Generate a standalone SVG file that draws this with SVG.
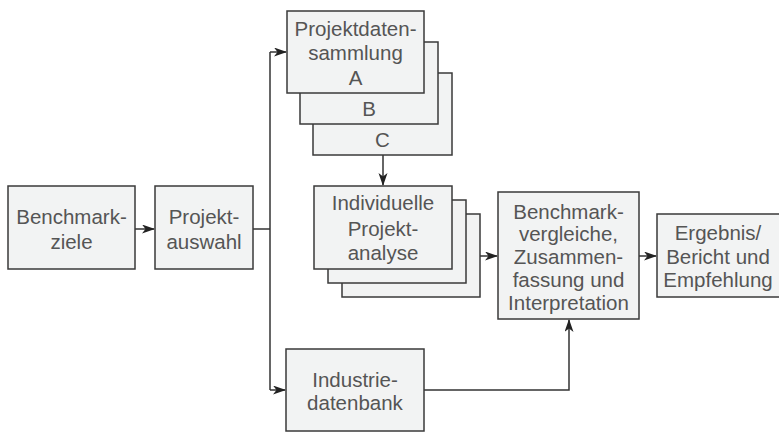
<svg xmlns="http://www.w3.org/2000/svg" width="779" height="432" viewBox="0 0 779 432">
<style>
.box{fill:#f2f3f3;stroke:#3a3a3a;stroke-width:1.5}
.t{font-family:"Liberation Sans",Arial,sans-serif;font-size:20.5px;fill:#555;text-anchor:middle}
.c{fill:none;stroke:#333;stroke-width:1.5}
</style>
<defs>
<marker id="ah" markerWidth="13" markerHeight="10" refX="12" refY="4.5" orient="auto" markerUnits="userSpaceOnUse">
<path d="M0,0 L13,4.5 L0,9 L3.5,4.5 z" fill="#222"/>
</marker>
</defs>
<rect width="779" height="432" fill="#fff"/>
<g id="connectors">
<path class="c" d="M135,229 H154" marker-end="url(#ah)"/>
<path class="c" d="M253,229 H270"/>
<path class="c" d="M270,52 V390"/>
<path class="c" d="M270,52 H286" marker-end="url(#ah)"/>
<path class="c" d="M270,390 H285" marker-end="url(#ah)"/>
<path class="c" d="M383,155 V185" marker-end="url(#ah)"/>
<path class="c" d="M480,256 H497" marker-end="url(#ah)"/>
<path class="c" d="M639,256 H656" marker-end="url(#ah)"/>
<path class="c" d="M424,390 H569 V320" marker-end="url(#ah)"/>
</g>
<g id="datensammlung-c">
<rect class="box" x="313" y="73" width="139" height="82"/>
<text class="t" x="382.5" y="147">C</text>
</g>
<g id="datensammlung-b">
<rect class="box" x="300" y="42" width="138" height="82"/>
<text class="t" x="369" y="116">B</text>
</g>
<g id="datensammlung-a">
<rect class="box" x="287" y="11" width="137" height="82"/>
<text class="t" x="355.5" y="36">Projektdaten-</text>
<text class="t" x="355.5" y="60">sammlung</text>
<text class="t" x="355.5" y="85">A</text>
</g>
<g id="benchmarkziele">
<rect class="box" x="8" y="186" width="127" height="83"/>
<text class="t" x="71.5" y="224">Benchmark-</text>
<text class="t" x="71.5" y="249">ziele</text>
</g>
<g id="projektauswahl">
<rect class="box" x="155" y="186" width="98" height="83"/>
<text class="t" x="204" y="224">Projekt-</text>
<text class="t" x="204" y="249">auswahl</text>
</g>
<g id="projektanalyse">
<rect class="box" x="342" y="214" width="138" height="83"/>
<rect class="box" x="328" y="200" width="138" height="83"/>
<rect class="box" x="314" y="186" width="138" height="83"/>
<text class="t" x="383" y="210">Individuelle</text>
<text class="t" x="383" y="236">Projekt-</text>
<text class="t" x="383" y="260">analyse</text>
</g>
<g id="benchmarkvergleiche">
<rect class="box" x="498" y="192" width="141" height="127"/>
<text class="t" x="568.5" y="219">Benchmark-</text>
<text class="t" x="568.5" y="241">vergleiche,</text>
<text class="t" x="568.5" y="264">Zusammen-</text>
<text class="t" x="568.5" y="287">fassung und</text>
<text class="t" x="568.5" y="310">Interpretation</text>
</g>
<g id="ergebnis">
<rect class="box" x="657" y="214" width="124" height="83"/>
<text class="t" x="718" y="240">Ergebnis/</text>
<text class="t" x="718" y="264">Bericht und</text>
<text class="t" x="718" y="287">Empfehlung</text>
</g>
<g id="industriedatenbank">
<rect class="box" x="286" y="349" width="138" height="82"/>
<text class="t" x="355" y="387">Industrie-</text>
<text class="t" x="355" y="410">datenbank</text>
</g>
</svg>
